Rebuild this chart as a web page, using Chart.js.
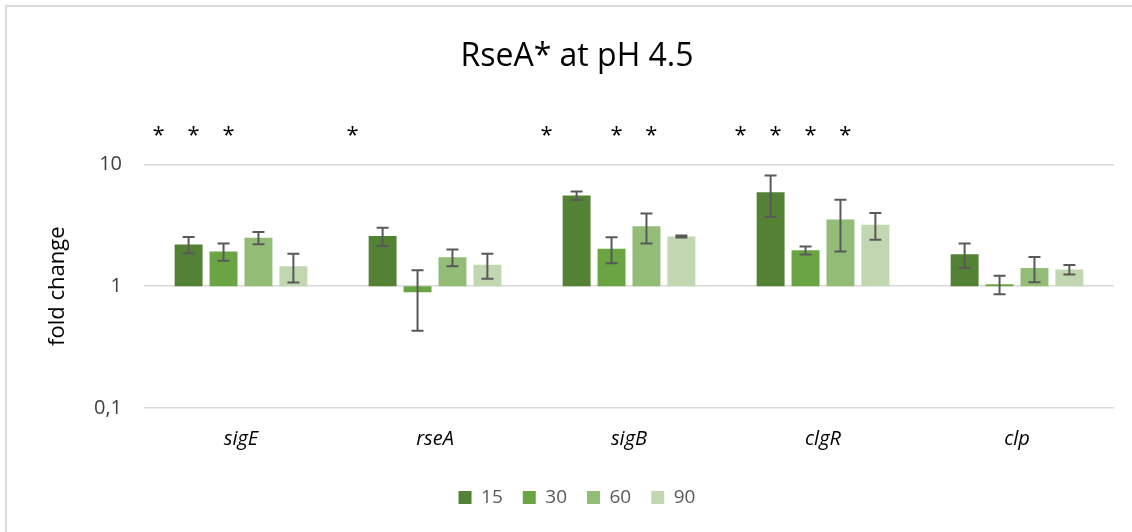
<!DOCTYPE html>
<html lang="en">
<head>
    <meta charset="UTF-8">
    <title>RseA* at pH 4.5</title>
    <script src="https://cdn.jsdelivr.net/npm/chart.js"></script>
    <style>
        html, body {
            margin: 0;
            padding: 0;
            background: #ffffff;
            overflow: hidden;
        }
        .marco {
            position: absolute;
            left: 5px;
            top: 5px;
            width: 1140px;
            height: 540px;
            border: 2px solid #d9d9d9;
        }
        #grafico {
            position: absolute;
            left: 0;
            top: 0;
        }
    </style>
</head>
<body>
    <div class="marco"></div>
    <canvas id="grafico" width="1132" height="532"></canvas>

    <script>
        const genes = ['sigE', 'rseA', 'sigB', 'clgR', 'clp'];
        const tiempos = ['15', '30', '60', '90'];

        // fold change per time point (one value per gene)
        const fc15 = [2.20, 2.58, 5.55, 5.90, 1.83];
        const fc30 = [1.93, 0.89, 2.03, 1.97, 1.04];
        const fc60 = [2.50, 1.73, 3.10, 3.53, 1.41];
        const fc90 = [1.46, 1.50, 2.56, 3.20, 1.37];

        // error (+/-) per time point
        const err15 = [0.34, 0.44, 0.45, 2.20, 0.41];
        const err30 = [0.31, 0.46, 0.49, 0.15, 0.18];
        const err60 = [0.29, 0.27, 0.86, 1.60, 0.33];
        const err90 = [0.39, 0.35, 0.05, 0.79, 0.12];

        // significance marks (*) per time point
        const sig15 = [true, true, true, true, false];
        const sig30 = [true, false, false, true, false];
        const sig60 = [true, false, true, true, false];
        const sig90 = [false, false, true, true, false];

        const yTicks = [0.1, 1, 10];
        const yTickLabels = ['0,1', '1', '10'];

        const colores = ['#548235', '#6aa443', '#93bd77', '#c0d7b1'];
        const valores = [fc15, fc30, fc60, fc90];
        const errores = [err15, err30, err60, err90];
        const marcas = [sig15, sig30, sig60, sig90];

        const fuente = "'Open Sans', sans-serif";

        // bars grow from 1 (horizontal axis crosses at 1)
        const datasets = tiempos.map((t, i) => ({
            label: t,
            data: valores[i].map(v => [1, v]),
            errores: errores[i],
            marcas: marcas[i],
            backgroundColor: colores[i],
            borderWidth: 0,
            barPercentage: 0.8,
            categoryPercentage: 0.72
        }));

        const barrasError = {
            id: 'barrasError',
            afterDatasetsDraw(chart) {
                const ctx = chart.ctx;
                const y = chart.scales.y;
                ctx.save();
                ctx.strokeStyle = '#595959';
                ctx.lineWidth = 2;
                chart.data.datasets.forEach((ds, i) => {
                    const meta = chart.getDatasetMeta(i);
                    meta.data.forEach((bar, j) => {
                        const v = ds.data[j][1];
                        const e = ds.errores[j];
                        const yTop = y.getPixelForValue(v + e);
                        const yBot = y.getPixelForValue(v - e);
                        ctx.beginPath();
                        ctx.moveTo(bar.x, yTop);
                        ctx.lineTo(bar.x, yBot);
                        ctx.moveTo(bar.x - 6, yTop);
                        ctx.lineTo(bar.x + 6, yTop);
                        ctx.moveTo(bar.x - 6, yBot);
                        ctx.lineTo(bar.x + 6, yBot);
                        ctx.stroke();
                    });
                });
                ctx.restore();
            }
        };

        // asterisks sit a little left of the bar they refer to
        const asteriscos = {
            id: 'asteriscos',
            afterDraw(chart) {
                const ctx = chart.ctx;
                const top = chart.chartArea.top;
                ctx.save();
                ctx.fillStyle = '#000000';
                ctx.font = '22px ' + fuente;
                ctx.textAlign = 'center';
                ctx.textBaseline = 'middle';
                chart.data.datasets.forEach((ds, i) => {
                    const meta = chart.getDatasetMeta(i);
                    meta.data.forEach((bar, j) => {
                        if (ds.marcas[j]) {
                            ctx.fillText('*', bar.x - 30, top - 29);
                        }
                    });
                });
                ctx.restore();
            }
        };

        new Chart(document.getElementById('grafico'), {
            type: 'bar',
            data: { labels: genes, datasets: datasets },
            options: {
                responsive: false,
                animation: false,
                layout: { padding: { left: 40, right: 18, top: 38, bottom: 15 } },
                plugins: {
                    title: {
                        display: true,
                        text: 'RseA* at pH 4.5',
                        color: '#000000',
                        font: { family: fuente, size: 32, weight: 'normal' },
                        padding: { top: 0, bottom: 88 }
                    },
                    legend: {
                        position: 'bottom',
                        labels: {
                            color: '#595959',
                            font: { family: fuente, size: 19 },
                            boxWidth: 13,
                            boxHeight: 13,
                            padding: 20
                        }
                    },
                    tooltip: { enabled: false }
                },
                scales: {
                    x: {
                        grid: { display: false },
                        border: { display: false },
                        afterFit(scale) {
                            scale.height += 6;
                        },
                        ticks: {
                            color: '#000000',
                            font: { family: fuente, size: 20, style: 'italic' },
                            padding: 11
                        }
                    },
                    y: {
                        type: 'logarithmic',
                        min: 0.1,
                        max: 10,
                        afterBuildTicks(scale) {
                            scale.ticks = yTicks.map(v => ({ value: v }));
                        },
                        afterFit(scale) {
                            scale.width = 104;
                        },
                        ticks: {
                            color: '#404040',
                            font: { family: fuente, size: 20 },
                            padding: 22,
                            callback: (v) => yTickLabels[yTicks.indexOf(v)]
                        },
                        grid: {
                            color: '#d9d9d9',
                            lineWidth: 1.5,
                            drawTicks: false
                        },
                        border: { display: false },
                        title: {
                            display: true,
                            text: 'fold change',
                            color: '#000000',
                            font: { family: fuente, size: 22 },
                            padding: { top: 5, bottom: 0 }
                        }
                    }
                }
            },
            plugins: [barrasError, asteriscos]
        });
    </script>
</body>
</html>
